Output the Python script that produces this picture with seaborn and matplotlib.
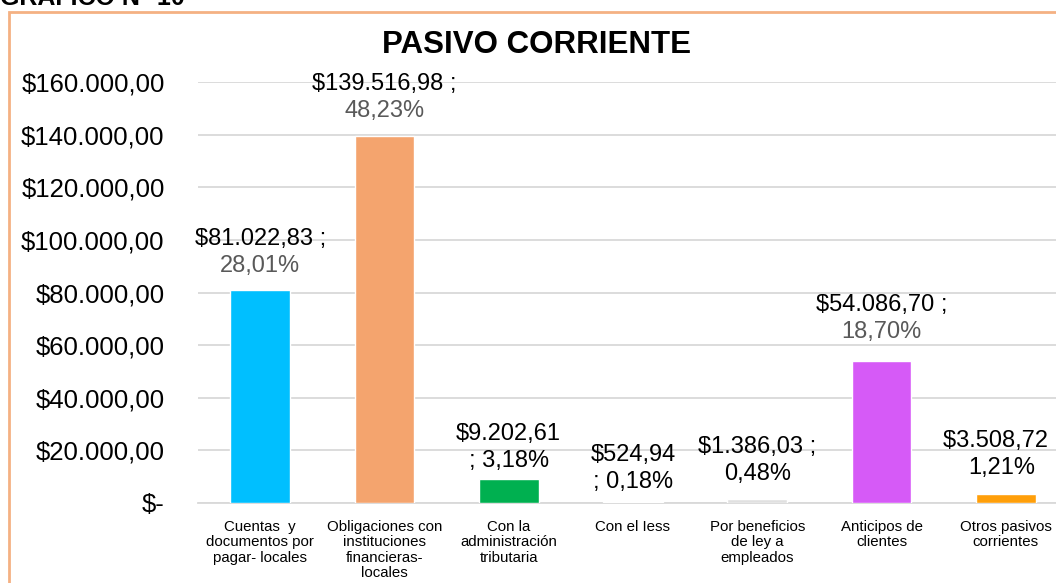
import matplotlib
matplotlib.use("Agg")
import matplotlib.pyplot as plt
import matplotlib.patches as mpatches
from matplotlib.ticker import FuncFormatter, FixedLocator
import seaborn as sns
import pandas as pd

# datos del grafico
categorias = ["Cuentas  y\ndocumentos por\npagar- locales",
              "Obligaciones con\ninstituciones\nfinancieras-\nlocales",
              "Con la\nadministración\ntributaria",
              "Con el Iess",
              "Por beneficios\nde ley a\nempleados",
              "Anticipos de\nclientes",
              "Otros pasivos\ncorrientes"]
valores = [81022.83, 139516.98, 9202.61, 524.94, 1386.03, 54086.70, 3508.72]
porcentajes = ["28,01%", "48,23%", "3,18%", "0,18%", "0,48%", "18,70%", "1,21%"]
etiquetas_valor = ["$81.022,83 ;", "$139.516,98 ;", "$9.202,61", "$524,94",
                   "$1.386,03 ;", "$54.086,70 ;", "$3.508,72 ;"]
colores = ["#00BFFF", "#F4A46E", "#00B050", "#E0E0E0", "#E0E0E0", "#D65AF7", "#FF9F0A"]

df = pd.DataFrame({"cat": categorias, "valor": valores})

sns.set_style("white")
plt.rcParams["font.family"] = ["Liberation Sans", "DejaVu Sans"]
plt.rcParams["text.color"] = "black"
plt.rcParams["xtick.color"] = "black"
plt.rcParams["ytick.color"] = "black"

fig = plt.figure(figsize=(10.56, 5.83), dpi=100)
ax = fig.add_axes([198 / 1056, 80 / 583, 870 / 1056, 421 / 583])

sns.barplot(data=df, x="cat", y="valor", hue="cat", palette=colores,
            legend=False, width=0.48, ax=ax, zorder=3, saturation=1)

ax.set_ylim(0, 160000)
ax.set_xlim(-0.5, 6.5)
ax.yaxis.set_major_locator(FixedLocator(range(0, 160001, 20000)))
ax.yaxis.set_major_formatter(FuncFormatter(
    lambda v, p: "$-" if v == 0 else "$" + f"{v:,.2f}".replace(",", "X").replace(".", ",").replace("X", ".")))
ax.grid(axis="y", color="#D9D9D9", lw=1.3, zorder=0)
ax.tick_params(axis="y", labelsize=18.5, length=0, pad=24, labelcolor="black")
ax.tick_params(axis="x", which="major", labelsize=10.8, length=0, pad=12, labelcolor="black")
ax.set_xticks(range(len(categorias)))
ax.set_xticklabels(categorias, linespacing=1.13, va="top")
ax.set_xticks([i - 0.5 for i in range(len(categorias) + 1)], minor=True)
ax.tick_params(axis="x", which="minor", length=5, width=1.3, color="#D9D9D9", direction="out")
ax.set_xlabel("")
ax.set_ylabel("")
for s in ["top", "right", "left"]:
    ax.spines[s].set_visible(False)
ax.spines["bottom"].set_color("#D9D9D9")
ax.spines["bottom"].set_linewidth(1.3)

# etiquetas de datos
desp_px = [24, 25, 18, 20, 25, 29, 26]
desp_x = [0, 0, 0, 0, 0, 0, -4]
grandes = [0, 1, 5]
for i, (v, et, pc) in enumerate(zip(valores, etiquetas_valor, porcentajes)):
    if i in grandes:
        l2, c2 = pc, "#595959"
    else:
        l2, c2 = ("; " + pc) if not et.endswith(";") else pc, "black"
    ax.annotate(l2, (i, v), xytext=(desp_x[i] * 0.72, desp_px[i] * 0.72), textcoords="offset points",
                ha="center", va="center", fontsize=17, color=c2, zorder=5, annotation_clip=False)
    ax.annotate(et, (i, v), xytext=(desp_x[i] * 0.72, (desp_px[i] + 27) * 0.72), textcoords="offset points",
                ha="center", va="center", fontsize=17, color="black", zorder=5, annotation_clip=False)

fig.text(537 / 1056, 1 - 45 / 583, "PASIVO CORRIENTE", ha="center", va="center",
         fontsize=22.5, fontweight="bold", color="black")
fig.text(0, 1 - 5 / 583, "GRAFICO N° 10", ha="left", va="baseline",
         fontsize=18, fontweight="bold", color="black")

borde = mpatches.Rectangle((9 / 1056, -0.2), 1.2, 1.2 - 12 / 583, transform=fig.transFigure,
                           fill=False, edgecolor="#F4B183", lw=2, clip_on=False)
fig.patches.append(borde)

fig.savefig("out.png", dpi=100)
